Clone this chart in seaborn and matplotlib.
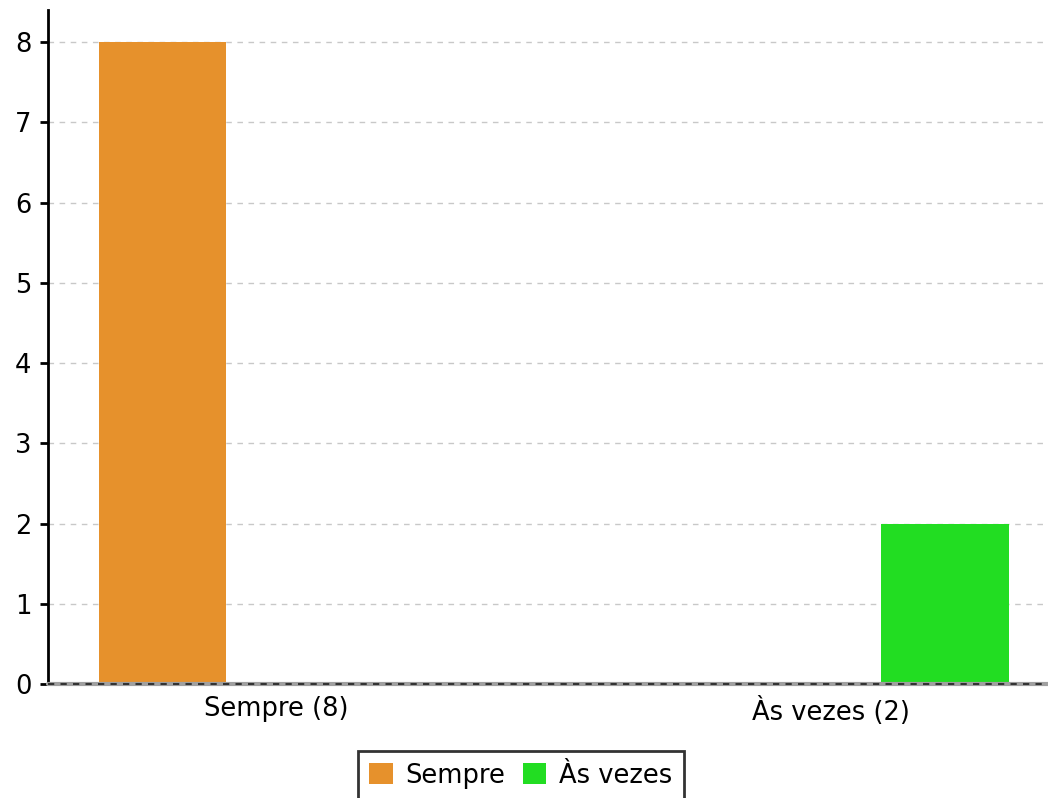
import matplotlib
matplotlib.use("Agg")
import matplotlib.pyplot as plt
import seaborn as sns
import pandas as pd

# Data
categories = ["Sempre (8)", "Às vezes (2)"]
series = ["Sempre", "Às vezes"]
values = [8, 2]
colors = ["#E6912C", "#22DD22"]

df = pd.DataFrame({"categoria": categories, "resposta": series, "valor": values})

sns.set_style("white")
plt.rcParams["font.family"] = ["DejaVu Sans"]
plt.rcParams["text.color"] = "black"
plt.rcParams["xtick.color"] = "black"
plt.rcParams["ytick.color"] = "black"

fig = plt.figure(figsize=(10.48, 7.98), dpi=100)
ax = fig.add_axes([48 / 1048, 1 - 684 / 798, 1 - 48 / 1048, (684 - 10) / 798])

sns.barplot(
    data=df, x="categoria", y="valor", hue="resposta",
    hue_order=series, order=categories, dodge=True,
    palette=colors, width=0.818, gap=0.44, saturation=1,
    edgecolor="none", ax=ax,
)

ax.set_xlim(-0.41, 1.39)
ax.set_ylim(0, 8.4)
ax.set_yticks(range(0, 9))
ax.yaxis.grid(True, color="#c8c8c8", linestyle=(0, (4, 4)), linewidth=1)
ax.set_axisbelow(True)
ax.axhline(0, color="#a0a0a0", linewidth=3, zorder=3, clip_on=False)
ax.axhline(0, color="#333333", linewidth=1.5, linestyle=(0, (3, 3)), zorder=4, clip_on=False)

ax.set_xlabel("")
ax.set_ylabel("")
ax.tick_params(axis="y", labelsize=18.5, labelcolor="black", length=6, width=2,
               color="black", left=True, pad=6)
ax.tick_params(axis="x", labelsize=18.5, labelcolor="black", length=0, pad=9)

for s in ["top", "right", "bottom"]:
    ax.spines[s].set_visible(False)
ax.spines["left"].set_color("black")
ax.spines["left"].set_linewidth(2)

ax.legend_.remove()
leg = fig.legend(
    *ax.get_legend_handles_labels(), loc="upper center",
    bbox_to_anchor=(521 / 1048, 1 - 751 / 798), ncol=2,
    frameon=True, fancybox=False, fontsize=18.5, borderaxespad=0,
    handlelength=0.9, handleheight=0.9, handletextpad=0.5,
    columnspacing=0.7, borderpad=0.45,
)
leg.get_frame().set_edgecolor("black")
leg.get_frame().set_linewidth(2)
for t in leg.get_texts():
    t.set_color("black")

fig.savefig("out.png", dpi=100, facecolor="white")
